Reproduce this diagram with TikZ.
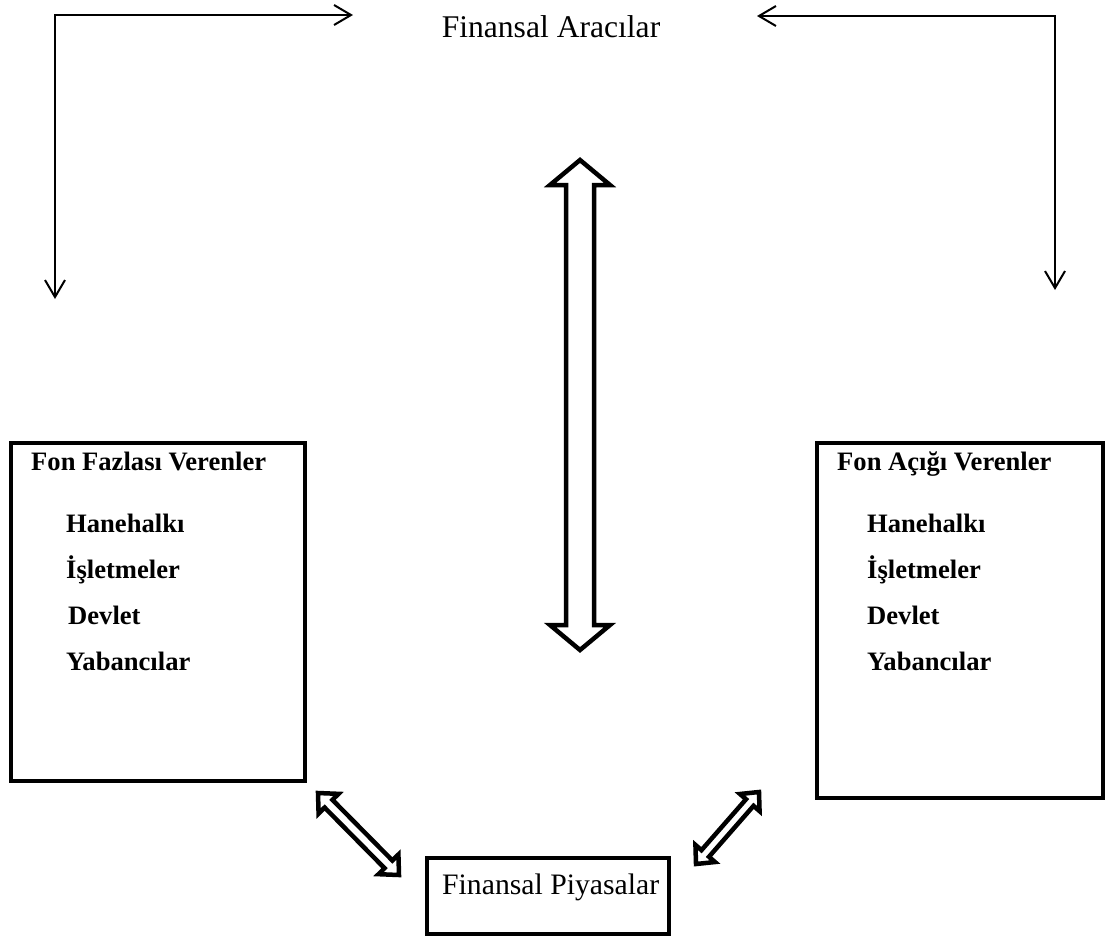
\documentclass[tikz,border=0pt]{standalone}
\usepackage{fontspec}
\setmainfont{Liberation Serif}
\usetikzlibrary{arrows.meta,calc}
\tikzset{
  mybarb/.tip={Straight Barb[length=17pt,width=20pt,line width=2pt]},
  flow/.style={line width=2pt, mybarb-mybarb},
  bx/.style={draw, line width=4pt, inner sep=0pt},
  lbl/.style={anchor=base west, inner sep=0pt, font=\bfseries\fontsize{26.6pt}{30pt}\selectfont},
  plain/.style={inner sep=0pt},
  darr/.style={draw, line width=4.5pt, line join=miter, fill=white}
}
\newcommand{\dblarrow}[5]{%
  \coordinate (#1-h) at ($(#1)!#3!(#2)$);
  \coordinate (#2-h) at ($(#2)!#3!(#1)$);
  \draw[darr] (#1) -- ($(#1-h)!#4!90:(#2)$) -- ($(#1-h)!#5!90:(#2)$)
    -- ($(#2-h)!#5!-90:(#1)$) -- ($(#2-h)!#4!-90:(#1)$) -- (#2)
    -- ($(#2-h)!#4!90:(#1)$) -- ($(#2-h)!#5!90:(#1)$)
    -- ($(#1-h)!#5!-90:(#2)$) -- ($(#1-h)!#4!-90:(#2)$) -- cycle;}
\begin{document}
\begin{tikzpicture}[x=1pt,y=-1pt]
\useasboundingbox (0,0) rectangle (1113,938);
% title
\node[plain, anchor=base, font=\fontsize{31.6pt}{36pt}\selectfont] (FA) at (551,37) {Finansal Aracılar};
% boxes
\node[bx, minimum width=294pt, minimum height=338pt] (FF) at (158,612) {};
\node[bx, minimum width=286pt, minimum height=355pt] (FAc) at (960,620.5) {};
\node[bx, minimum width=242pt, minimum height=76pt] (FP) at (548,896) {};
\node[plain, anchor=base west, font=\fontsize{29.7pt}{36pt}\selectfont] (FPt) at (442,894) {Finansal Piyasalar};
% left box texts
\node[lbl] (lt) at (31,470) {Fon Fazlası Verenler};
\node[lbl] (l1) at (66,532) {Hanehalkı};
\node[lbl] (l2) at (66,578) {İşletmeler};
\node[lbl] (l3) at (68,624) {Devlet};
\node[lbl] (l4) at (66,670) {Yabancılar};
% right box texts
\node[lbl] (rt) at (837,470) {Fon Açığı Verenler};
\node[lbl] (r1) at (867,532) {Hanehalkı};
\node[lbl] (r2) at (867,578) {İşletmeler};
\node[lbl] (r3) at (867,624) {Devlet};
\node[lbl] (r4) at (867,670) {Yabancılar};
% top L-shaped arrows
\coordinate (L1) at (55,299);
\coordinate (L2) at (353,15);
\coordinate (R1) at (1055,290);
\coordinate (R2) at (757,16);
\draw[flow] (L1) |- (L2);
\draw[flow] (R1) |- (R2);
% block double arrows
\coordinate (VA) at (580,160);
\coordinate (VB) at (580,650);
\dblarrow{VA}{VB}{25pt}{30pt}{14pt}
\coordinate (DA) at (318,793);
\coordinate (DB) at (399,875);
\dblarrow{DA}{DB}{15pt}{14pt}{5.5pt}
\coordinate (EA) at (759,792);
\coordinate (EB) at (696,864);
\dblarrow{EA}{EB}{14pt}{13pt}{5pt}
\end{tikzpicture}
\end{document}
